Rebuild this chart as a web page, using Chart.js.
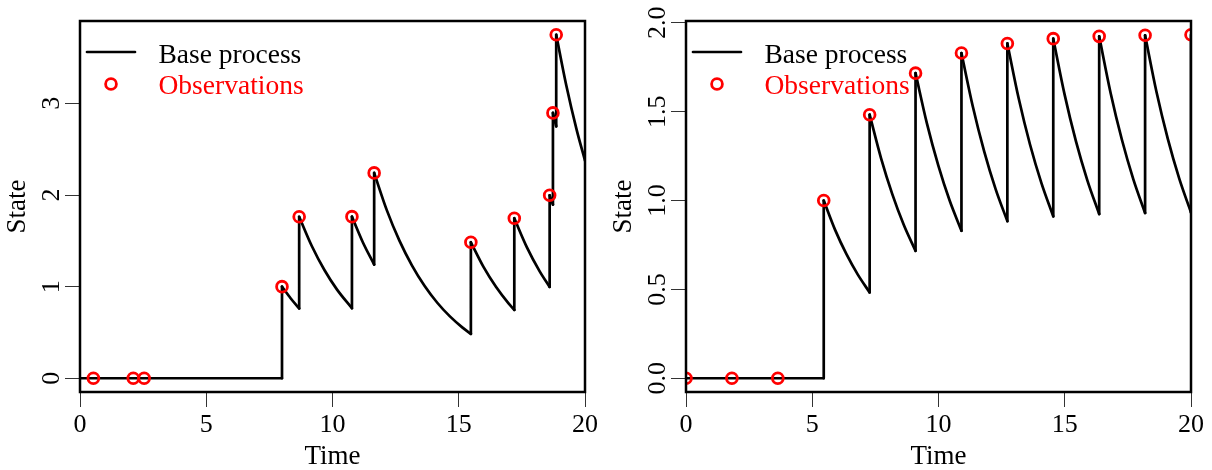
<!DOCTYPE html>
<html>
<head>
<meta charset="utf-8">
<script src="https://cdn.jsdelivr.net/npm/chart.js@4.4.1/dist/chart.umd.min.js"></script>
<style>
  html, body { margin: 0; padding: 0; background: #fff; }
  #wrap { position: relative; width: 1212px; height: 470px; overflow: hidden; }
  .panel { position: absolute; top: 0; width: 606px; height: 470px; }
  canvas { display: block; }
</style>
</head>
<body>
<div id="wrap">
  <div class="panel" style="left:0"><canvas id="leftPanel" width="606" height="470"></canvas></div>
  <div class="panel" style="left:606px"><canvas id="rightPanel" width="606" height="470"></canvas></div>
</div>
<script>
// Axis ticks
const timeTicks = [0, 5, 10, 15, 20];
const leftStateTicks = [0, 1, 2, 3];
const rightStateTicks = [0, 0.5, 1, 1.5, 2];

// Left panel: base process path (repeated times mark the jumps)
const leftPathTime = [
  0, 8.0,
  8.0, 8.34, 8.68,
  8.68, 9.18, 9.68, 10.18, 10.77,
  10.77, 11.21, 11.65,
  11.65, 12.15, 12.65, 13.15, 13.65, 14.15, 14.65, 15.15, 15.48,
  15.48, 15.98, 16.48, 16.98, 17.2,
  17.2, 17.7, 18.2, 18.6,
  18.6, 18.73,
  18.73, 18.86,
  18.86, 19.26, 19.66, 20.0
];
const leftPathState = [
  0, 0,
  1.0, 0.873, 0.762,
  1.762, 1.443, 1.181, 0.967, 0.764,
  1.764, 1.479, 1.241,
  2.241, 1.835, 1.502, 1.230, 1.007, 0.824, 0.675, 0.553, 0.484,
  1.484, 1.215, 0.995, 0.814, 0.746,
  1.746, 1.429, 1.170, 0.997,
  1.997, 1.896,
  2.896, 2.749,
  3.749, 3.195, 2.722, 2.376
];
// Left panel: observations
const leftObsTime = [0.53, 2.11, 2.54, 8.0, 8.68, 10.77, 11.65, 15.48, 17.2, 18.6, 18.73, 18.86];
const leftObsState = [0, 0, 0, 1.0, 1.762, 1.764, 2.241, 1.484, 1.746, 1.997, 2.896, 3.749];

// Right panel: base process path
const rightPathTime = [
  0, 5.455,
  5.455, 5.905, 6.355, 6.805, 7.273,
  7.273, 7.723, 8.173, 8.623, 9.091,
  9.091, 9.541, 9.991, 10.441, 10.909,
  10.909, 11.359, 11.809, 12.259, 12.727,
  12.727, 13.177, 13.627, 14.077, 14.545,
  14.545, 14.995, 15.445, 15.895, 16.364,
  16.364, 16.814, 17.264, 17.714, 18.182,
  18.182, 18.632, 19.082, 19.532, 20.0,
  20.0
];
const rightPathState = [
  0, 0,
  1.0, 0.835, 0.698, 0.583, 0.483,
  1.483, 1.239, 1.035, 0.864, 0.717,
  1.717, 1.434, 1.198, 1.000, 0.830,
  1.830, 1.529, 1.277, 1.066, 0.884,
  1.884, 1.574, 1.314, 1.098, 0.911,
  1.911, 1.596, 1.333, 1.114, 0.924,
  1.924, 1.607, 1.342, 1.121, 0.930,
  1.930, 1.612, 1.347, 1.125, 0.933,
  1.933
];
// Right panel: observations at regular times
const rightObsTime = [0, 1.818, 3.636, 5.455, 7.273, 9.091, 10.909, 12.727, 14.545, 16.364, 18.182, 20.0];
const rightObsState = [0, 0, 0, 1.0, 1.483, 1.717, 1.830, 1.884, 1.911, 1.924, 1.930, 1.933];

const SERIF = "'Liberation Serif', 'Times New Roman', serif";
const RED = '#ff0000';

// Split a path into smooth decay pieces and vertical jump pieces (null breaks the line).
function splitPath(ts, ys) {
  const decay = [], jumps = [];
  decay.push({ x: ts[0], y: ys[0] });
  for (let i = 1; i < ts.length; i++) {
    if (ts[i] === ts[i - 1]) {
      jumps.push({ x: ts[i - 1], y: ys[i - 1] }, { x: ts[i], y: ys[i] }, { x: ts[i], y: null });
      decay.push({ x: ts[i], y: null });
    }
    decay.push({ x: ts[i], y: ys[i] });
  }
  return { decay, jumps };
}

const framePlugin = {
  id: 'frame',
  afterDatasetsDraw(chart) {
    const { ctx, chartArea: a } = chart;
    ctx.save();
    ctx.strokeStyle = '#000';
    ctx.lineWidth = 2.5;
    ctx.strokeRect(a.left, a.top, a.right - a.left, a.bottom - a.top);
    ctx.restore();
  }
};

const keyPlugin = {
  id: 'key',
  afterDraw(chart) {
    const { ctx, chartArea: a } = chart;
    ctx.save();
    // line sample
    ctx.strokeStyle = '#000';
    ctx.lineWidth = 2.7;
    ctx.lineCap = 'round';
    ctx.beginPath();
    ctx.moveTo(a.left + 7, a.top + 31);
    ctx.lineTo(a.left + 55, a.top + 31);
    ctx.stroke();
    // circle sample
    ctx.strokeStyle = RED;
    ctx.lineWidth = 2.8;
    ctx.beginPath();
    ctx.arc(a.left + 31, a.top + 63, 5.4, 0, Math.PI * 2);
    ctx.stroke();
    // labels
    ctx.font = '27.5px ' + SERIF;
    ctx.textAlign = 'left';
    ctx.textBaseline = 'alphabetic';
    ctx.fillStyle = '#000';
    ctx.fillText('Base process', a.left + 78.5, a.top + 41.5);
    ctx.fillStyle = RED;
    ctx.fillText('Observations', a.left + 78.5, a.top + 72.5);
    ctx.restore();
  }
};

function makePanel(id, pathT, pathY, obsT, obsY, stateTicks, digits, yTickPadding) {
  const { decay, jumps } = splitPath(pathT, pathY);
  const hi = Math.max(...pathY, ...obsY), lo = Math.min(...pathY, ...obsY);
  const ext = 0.04 * (hi - lo);
  const tickFont = { family: SERIF, size: 26, lineHeight: 1 };
  const titleFont = { family: SERIF, size: 27, lineHeight: 1 };
  const lineStyle = {
    borderColor: '#000', borderWidth: 2.7, pointRadius: 0,
    borderCapStyle: 'round', borderJoinStyle: 'round',
    spanGaps: false, clip: 0
  };
  return new Chart(document.getElementById(id), {
    type: 'line',
    data: {
      datasets: [
        {
          label: 'Observations',
          data: obsT.map((t, i) => ({ x: t, y: obsY[i] })),
          showLine: false,
          pointStyle: 'circle',
          pointRadius: 5.4,
          pointBorderWidth: 2.8,
          pointBorderColor: RED,
          pointBackgroundColor: 'rgba(0,0,0,0)',
          clip: 0
        },
        Object.assign({ label: 'Base process', data: decay, cubicInterpolationMode: 'monotone' }, lineStyle),
        Object.assign({ label: 'Base process jumps', data: jumps, tension: 0 }, lineStyle)
      ]
    },
    options: {
      responsive: false,
      devicePixelRatio: 1,
      animation: false,
      events: [],
      layout: { padding: { left: 0, right: 21, top: 21, bottom: 0 } },
      plugins: { legend: { display: false }, tooltip: { enabled: false } },
      scales: {
        x: {
          type: 'linear', position: 'bottom', min: 0, max: 20,
          afterBuildTicks: s => { s.ticks = timeTicks.map(v => ({ value: v })); },
          afterFit: s => { s.height = 78; s.paddingLeft = 0; s.paddingRight = 0; },
          grid: { drawOnChartArea: false, drawTicks: true, tickLength: 15, tickColor: '#333', tickWidth: 1 },
          border: { display: false },
          ticks: { font: tickFont, color: '#000', padding: 5, maxRotation: 0, autoSkip: false,
                   callback: v => String(v) },
          title: { display: true, text: 'Time', font: titleFont, color: '#000', padding: { top: 0, bottom: 0 } }
        },
        y: {
          type: 'linear', position: 'left', min: lo - ext, max: hi + ext,
          afterBuildTicks: s => { s.ticks = stateTicks.map(v => ({ value: v })); },
          afterFit: s => { s.width = 80; s.paddingTop = 0; s.paddingBottom = 0; },
          grid: { drawOnChartArea: false, drawTicks: true, tickLength: 15, tickColor: '#333', tickWidth: 1 },
          border: { display: false },
          ticks: { font: tickFont, color: '#000', padding: yTickPadding, minRotation: 90, maxRotation: 90,
                   crossAlign: 'center', autoSkip: false,
                   callback: v => v.toFixed(digits) },
          title: { display: true, text: 'State', font: titleFont, color: '#000', padding: { top: 4, bottom: 0 } }
        }
      }
    },
    plugins: [framePlugin, keyPlugin]
  });
}

makePanel('leftPanel', leftPathTime, leftPathState, leftObsTime, leftObsState, leftStateTicks, 0, 6);
makePanel('rightPanel', rightPathTime, rightPathState, rightObsTime, rightObsState, rightStateTicks, 1, -3);
</script>
</body>
</html>
